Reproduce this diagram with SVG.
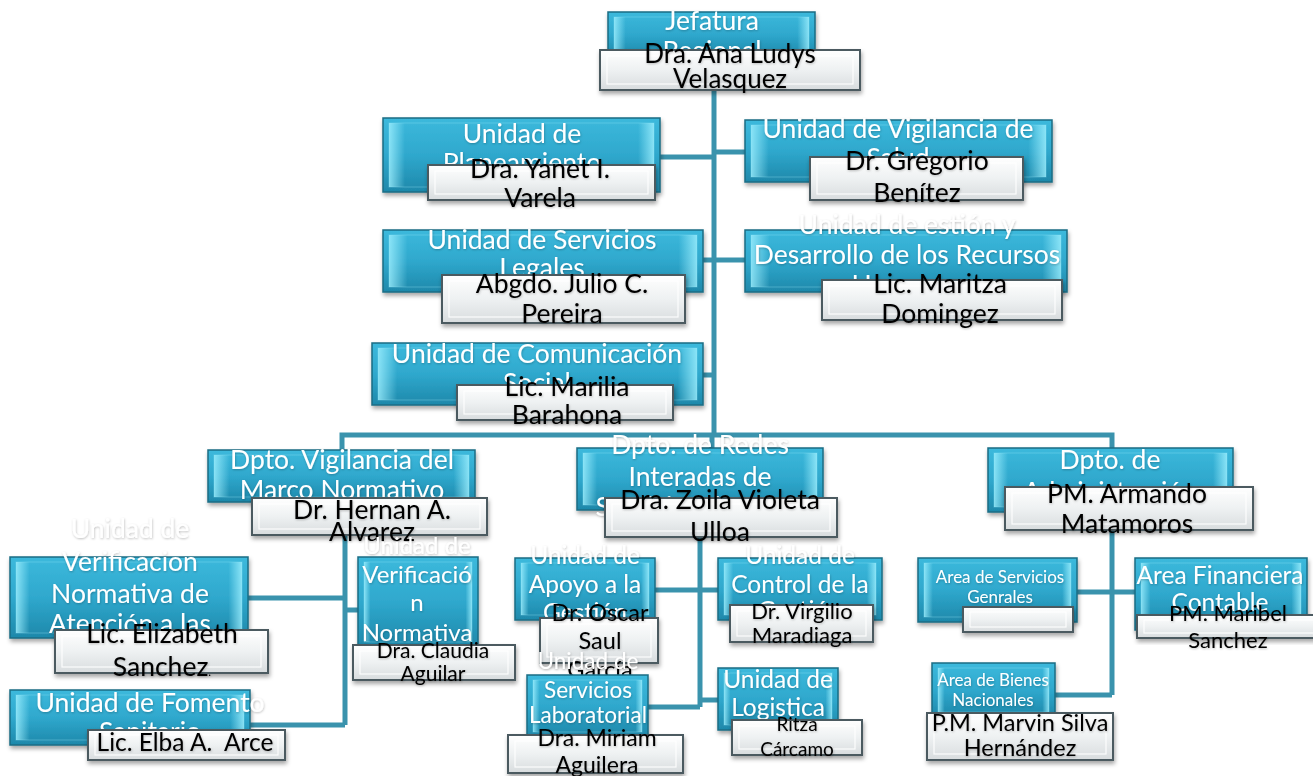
<svg xmlns="http://www.w3.org/2000/svg" width="1313" height="776" viewBox="0 0 1313 776">
<defs>
<linearGradient id="gb" x1="0" y1="0" x2="0" y2="1">
<stop offset="0" stop-color="#3cb9dc"/><stop offset="0.5" stop-color="#2fa8cd"/><stop offset="1" stop-color="#1e88aa"/>
</linearGradient>
<linearGradient id="gbe" x1="0" y1="0" x2="1" y2="0">
<stop offset="0" stop-color="#9ff0ff" stop-opacity="0.8"/><stop offset="0.06" stop-color="#9ff0ff" stop-opacity="0"/><stop offset="0.94" stop-color="#9ff0ff" stop-opacity="0"/><stop offset="1" stop-color="#9ff0ff" stop-opacity="0.8"/>
</linearGradient>
<linearGradient id="gw" x1="0" y1="0" x2="0" y2="1">
<stop offset="0" stop-color="#ffffff"/><stop offset="0.5" stop-color="#eef1f2"/><stop offset="1" stop-color="#d8dcde"/>
</linearGradient>
<filter id="sh" x="-10%" y="-20%" width="120%" height="150%">
<feDropShadow dx="1" dy="3" stdDeviation="2" flood-color="#000" flood-opacity="0.35"/>
</filter>
<filter id="ts" x="-5%" y="-20%" width="110%" height="150%">
<feDropShadow dx="0.5" dy="1" stdDeviation="0.8" flood-color="#000" flood-opacity="0.25"/>
</filter>
<style>
.b{fill:url(#gb);stroke:#1a6c84;stroke-width:1.5;filter:url(#sh)}
.be{fill:url(#gbe);stroke:#8fe6f8;stroke-opacity:0.35;stroke-width:1}
.w{fill:url(#gw);stroke:#4b5a60;stroke-width:2;filter:url(#sh)}
.wi{fill:none;stroke:#ffffff;stroke-width:1.2;stroke-opacity:0.9}
.t{font-family:Lato,"Open Sans",sans-serif;fill:#fff;text-anchor:middle;filter:url(#ts);font-size:26.5px}
.k{font-family:Lato,"Open Sans",sans-serif;fill:#000;text-anchor:middle;filter:url(#ts);font-size:26.5px}
.c{stroke:#3a93ad;stroke-width:5;fill:none}
</style>
</defs>
<rect width="1313" height="776" fill="#fff"/>
<g id="connectors">
<path class="c" d="M714 90V435M342 450V435H1112V448M712 435V448"/>
<path class="c" d="M660 157H714M714 152H745M703 260H745M703 375H714"/>
<path class="c" d="M345 535V725M248 598H345M345 610H358M250 725H345"/>
<path class="c" d="M700 537V707M655 590H718M648 707H700M700 700H718"/>
<path class="c" d="M1112 530V695M1077 592H1135M1055 695H1112"/>
</g>
<g id="jefatura">
<rect class="b" x="608" y="12" width="207" height="45"/><rect class="be" x="614" y="17" width="195" height="35"/>
<text class="t" x="712" y="30">Jefatura</text><text class="t" x="712" y="60">Regional</text>
<rect class="w" x="600" y="50" width="260" height="40"/><rect class="wi" x="607" y="56" width="246" height="28"/>
<text class="k" style="font-size:26px" x="730" y="63">Dra. Ana Ludys</text><text class="k" style="font-size:26px" x="730" y="88">Velasquez</text>
</g>
<g id="planeamiento">
<rect class="b" x="383" y="118" width="277" height="74"/><rect class="be" x="389" y="123" width="265" height="64"/>
<text class="t" x="522" y="143">Unidad de</text><text class="t" x="522" y="172">Planeamiento</text>
<rect class="w" x="428" y="165" width="227" height="35"/><rect class="wi" x="435" y="171" width="213" height="23"/>
<text class="k" x="540" y="178">Dra. Yanet I.</text><text class="k" x="540" y="207">Varela</text>
</g>
<g id="vigilancia-salud">
<rect class="b" x="745" y="120" width="307" height="62"/><rect class="be" x="751" y="125" width="295" height="52"/>
<text class="t" x="898" y="138">Unidad de Vigilancia de</text><text class="t" x="898" y="167">Salud</text>
<rect class="w" x="810" y="157" width="213" height="43"/><rect class="wi" x="817" y="163" width="199" height="31"/>
<text class="k" x="917" y="170">Dr. Gregorio</text><text class="k" x="917" y="202">Benítez</text>
</g>
<g id="servicios-legales">
<rect class="b" x="383" y="230" width="320" height="62"/><rect class="be" x="389" y="235" width="308" height="52"/>
<text class="t" x="542" y="249">Unidad de Servicios</text><text class="t" x="542" y="277">Legales</text>
<rect class="w" x="442" y="275" width="243" height="48"/><rect class="wi" x="449" y="281" width="229" height="36"/>
<text class="k" x="562" y="293">Abgdo. Julio C.</text><text class="k" x="562" y="323">Pereira</text>
</g>
<g id="recursos-humanos">
<rect class="b" x="745" y="230" width="322" height="62"/><rect class="be" x="751" y="235" width="310" height="52"/>
<text class="t" x="907" y="234">Unidad de estión y</text><text class="t" x="907" y="264">Desarrollo de los Recursos</text><text class="t" x="907" y="294">Humanos</text>
<rect class="w" x="822" y="280" width="240" height="40"/><rect class="wi" x="829" y="286" width="226" height="28"/>
<text class="k" x="940" y="293">Lic. Maritza</text><text class="k" x="940" y="323">Domingez</text>
</g>
<g id="comunicacion">
<rect class="b" x="372" y="343" width="331" height="62"/><rect class="be" x="378" y="348" width="319" height="52"/>
<text class="t" x="537" y="363">Unidad de Comunicación</text><text class="t" x="537" y="392">Social</text>
<rect class="w" x="457" y="385" width="216" height="35"/><rect class="wi" x="464" y="391" width="202" height="23"/>
<text class="k" x="567" y="396">Lic. Marilia</text><text class="k" x="567" y="424">Barahona</text>
</g>
<g id="dpto-vigilancia">
<rect class="b" x="208" y="450" width="267" height="52"/><rect class="be" x="214" y="455" width="255" height="42"/>
<text class="t" x="342" y="469">Dpto. Vigilancia del</text><text class="t" x="342" y="499">Marco Normativo</text>
<rect class="w" x="252" y="498" width="235" height="37"/><rect class="wi" x="259" y="504" width="221" height="25"/>
<text class="k" x="372" y="519">Dr. Hernan A.</text><text class="k" x="372" y="541">Alvarez</text>
</g>
<g id="dpto-redes">
<rect class="b" x="577" y="448" width="246" height="62"/><rect class="be" x="583" y="453" width="234" height="52"/>
<text class="t" x="700" y="454">Dpto. de Redes</text><text class="t" x="700" y="486">Interadas de</text><text class="t" x="700" y="516">Servicios de Salud</text>
<rect class="w" x="605" y="498" width="232" height="39"/><rect class="wi" x="612" y="504" width="218" height="27"/>
<text class="k" x="720" y="509">Dra. Zoila Violeta</text><text class="k" x="720" y="541">Ulloa</text>
</g>
<g id="dpto-administracion">
<rect class="b" x="988" y="448" width="245" height="64"/><rect class="be" x="994" y="453" width="233" height="54"/>
<text class="t" x="1110" y="469">Dpto. de</text><text class="t" x="1110" y="501">Administración</text>
<rect class="w" x="1005" y="487" width="248" height="43"/><rect class="wi" x="1012" y="493" width="234" height="31"/>
<text class="k" x="1127" y="503">PM. Armando</text><text class="k" x="1127" y="533">Matamoros</text>
</g>
<g id="verificacion-atencion">
<rect class="b" x="10" y="557" width="238" height="81"/><rect class="be" x="16" y="562" width="226" height="71"/>
<text class="t" x="130" y="538">Unidad de</text><text class="t" x="130" y="571">Verificacion</text><text class="t" x="130" y="603">Normativa de</text><text class="t" x="130" y="633">Atención a las</text><text class="t" x="130" y="663">Personas</text>
<rect class="w" x="55" y="630" width="213" height="43"/><rect class="wi" x="62" y="636" width="199" height="31"/>
<text class="k" x="162" y="643">Lic. Elizabeth</text><text class="k" x="162" y="676">Sanchez<tspan style="font-size:12px">.</tspan></text>
</g>
<g id="verificacion-sanitaria">
<rect class="b" x="358" y="557" width="120" height="90"/><rect class="be" x="364" y="562" width="108" height="80"/>
<text class="t" style="font-size:24px" x="417" y="554">Unidad de</text><text class="t" style="font-size:24px" x="417" y="583">Verificació</text><text class="t" style="font-size:24px" x="417" y="611">n</text><text class="t" style="font-size:24px" x="417" y="641">Normativa</text><text class="t" style="font-size:24px" x="417" y="669">Sanitaria</text>
<rect class="w" x="353" y="645" width="162" height="35"/><rect class="wi" x="360" y="651" width="148" height="23"/>
<text class="k" style="font-size:21px" x="433" y="658">Dra. Claudia</text><text class="k" style="font-size:21px" x="433" y="681">Aguilar</text>
</g>
<g id="fomento">
<rect class="b" x="10" y="690" width="240" height="55"/><rect class="be" x="16" y="695" width="228" height="45"/>
<text class="t" x="150" y="712">Unidad de Fomento</text><text class="t" x="150" y="741">Sanitario</text>
<rect class="w" x="88" y="730" width="197" height="30"/><rect class="wi" x="95" y="735" width="183" height="20"/>
<text class="k" style="font-size:24.5px" x="185" y="751" xml:space="preserve">Lic. Elba A.  Arce</text>
</g>
<g id="apoyo-gestion">
<rect class="b" x="515" y="558" width="140" height="62"/><rect class="be" x="521" y="563" width="128" height="52"/>
<text class="t" style="font-size:24.5px" x="585" y="564">Unidad de</text><text class="t" style="font-size:24.5px" x="585" y="593">Apoyo a la</text><text class="t" style="font-size:24.5px" x="585" y="621">Gestión</text>
<rect class="w" x="540" y="618" width="118" height="45"/><rect class="wi" x="547" y="624" width="104" height="33"/>
<text class="k" style="font-size:23.5px" x="600" y="621">Dr. Oscar</text><text class="k" style="font-size:23.5px" x="600" y="649">Saul</text><text class="k" style="font-size:23.5px" x="600" y="678">García</text>
</g>
<g id="control-gestion">
<rect class="b" x="718" y="558" width="164" height="62"/><rect class="be" x="724" y="563" width="152" height="52"/>
<text class="t" style="font-size:24.5px" x="800" y="564">Unidad de</text><text class="t" style="font-size:24.5px" x="800" y="593">Control de la</text><text class="t" style="font-size:24.5px" x="800" y="619">Gestión</text>
<rect class="w" x="730" y="605" width="143" height="37"/><rect class="wi" x="737" y="611" width="129" height="25"/>
<text class="k" style="font-size:22px" x="802" y="619">Dr. Virgilio</text><text class="k" style="font-size:22px" x="802" y="643">Maradiaga</text>
</g>
<g id="laboratorial">
<rect class="b" x="527" y="675" width="121" height="62"/><rect class="be" x="533" y="680" width="109" height="52"/>
<text class="t" style="font-size:22.5px" x="588" y="669">Unidad de</text><text class="t" style="font-size:22.5px" x="588" y="698">Servicios</text><text class="t" style="font-size:22.5px" x="588" y="723">Laboratorial</text>
<rect class="w" x="508" y="735" width="175" height="38"/><rect class="wi" x="515" y="741" width="161" height="26"/>
<text class="k" style="font-size:23px" x="597" y="746">Dra. Miriam</text><text class="k" style="font-size:23px" x="597" y="773">Aguilera</text>
</g>
<g id="logistica">
<rect class="b" x="718" y="668" width="120" height="62"/><rect class="be" x="724" y="673" width="108" height="52"/>
<text class="t" style="font-size:24.5px" x="778" y="688">Unidad de</text><text class="t" style="font-size:24.5px" x="778" y="716">Logistica</text>
<rect class="w" x="732" y="720" width="130" height="35"/><rect class="wi" x="739" y="726" width="116" height="23"/>
<text class="k" style="font-size:19px" x="797" y="731">Ritza</text><text class="k" style="font-size:19px" x="797" y="756">Cárcamo</text>
</g>
<g id="servicios-generales">
<rect class="b" x="918" y="558" width="159" height="64"/><rect class="be" x="924" y="563" width="147" height="54"/>
<text class="t" style="font-size:17px" x="1000" y="583">Area de Servicios</text><text class="t" style="font-size:17px" x="1000" y="603">Genrales</text>
<rect class="w" x="963" y="607" width="110" height="25"/><rect class="wi" x="970" y="612" width="96" height="15"/>
</g>
<g id="financiera">
<rect class="b" x="1135" y="558" width="172" height="72"/><rect class="be" x="1141" y="563" width="160" height="62"/>
<text class="t" style="font-size:24.5px" x="1220" y="584">Area Financiera</text><text class="t" style="font-size:24.5px" x="1220" y="611">Contable</text>
<rect class="w" x="1137" y="615" width="182" height="23"/><rect class="wi" x="1144" y="620" width="170" height="13"/>
<text class="k" style="font-size:22px" x="1228" y="621">PM. Maribel</text><text class="k" style="font-size:22px" x="1228" y="648">Sanchez</text>
</g>
<g id="bienes-nacionales">
<rect class="b" x="932" y="663" width="123" height="54"/><rect class="be" x="938" y="668" width="111" height="44"/>
<text class="t" style="font-size:17px" x="993" y="686">Area de Bienes</text><text class="t" style="font-size:17px" x="993" y="706">Nacionales</text>
<rect class="w" x="927" y="713" width="186" height="47"/><rect class="wi" x="934" y="719" width="172" height="35"/>
<text class="k" style="font-size:23.5px" x="1020" y="731">P.M. Marvin Silva</text><text class="k" style="font-size:23.5px" x="1020" y="756">Hernández</text>
</g>
</svg>
